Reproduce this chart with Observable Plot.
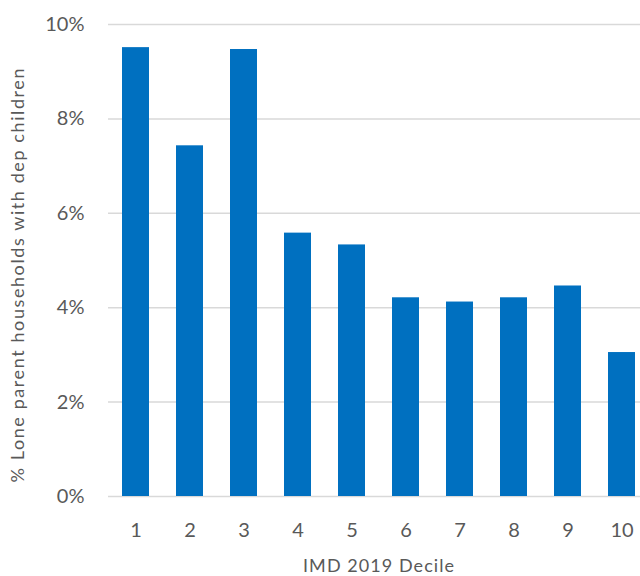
<!DOCTYPE html>
<html><head><meta charset="utf-8">
<script src="https://cdn.jsdelivr.net/npm/d3@7"></script>
<script src="https://cdn.jsdelivr.net/npm/@observablehq/plot@0.6"></script>
<style>html,body{margin:0;padding:0;background:#fff;overflow:hidden}</style>
</head><body><div id="chart"></div>
<script>
const deciles = ["1","2","3","4","5","6","7","8","9","10"];
const values = [9.51, 7.43, 9.47, 5.58, 5.33, 4.21, 4.12, 4.21, 4.46, 3.05];
const yTicks = [0, 2, 4, 6, 8, 10];
const yLabel = "% Lone parent households with dep children";
const xLabel = "IMD 2019 Decile";
const data = deciles.map((d, i) => ({decile: d, value: values[i]}));

const chart = Plot.plot({
  width: 640, height: 576,
  marginTop: 24, marginBottom: 80, marginLeft: 108, marginRight: -8,
  style: {fontFamily: "Lato", color: "#595959", background: "#fff", overflow: "visible"},
  x: {domain: deciles, paddingInner: 0.5, paddingOuter: 0.25, label: null},
  y: {domain: [0, 10], label: null},
  marks: [
    Plot.ruleY(yTicks, {stroke: "#d9d9d9", strokeWidth: 1.5}),
    Plot.barY(data, {x: "decile", y: "value", fill: "#0070C0"}),
    Plot.axisX({tickSize: 0, tickPadding: 26, fontSize: 20, label: null, fill: "#595959"}),
    Plot.axisY({ticks: yTicks, tickFormat: d => d + "%", tickSize: 0, tickPadding: 24, fontSize: 20, label: null, fill: "#595959"}),
    Plot.text([xLabel], {frameAnchor: "bottom", dy: 70, fontSize: 18, fill: "#595959", lineAnchor: "middle", textAnchor: "middle", className: "xlab"}),
    Plot.text([yLabel], {frameAnchor: "left", dx: -90, dy: 15, rotate: -90, fontSize: 18, fill: "#595959", lineAnchor: "middle", textAnchor: "middle", className: "ylab"})
  ]
});
document.getElementById("chart").appendChild(chart);
d3.select(chart).selectAll(".xlab text").attr("textLength", 151).attr("lengthAdjust", "spacing");
d3.select(chart).selectAll(".ylab text").attr("textLength", 414).attr("lengthAdjust", "spacing");
</script>
</body></html>
